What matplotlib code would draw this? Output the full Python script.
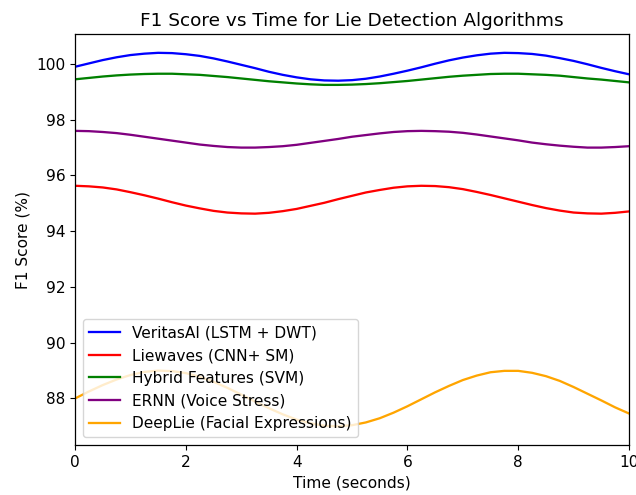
import numpy as np
import matplotlib
matplotlib.use("Agg")
import matplotlib.pyplot as plt

# values every 0.25 s
time_s = np.linspace(0, 10, 41)

veritas = [99.90, 100.02, 100.14, 100.24, 100.32, 100.37, 100.40, 100.39, 100.35, 100.29,
           100.20, 100.09, 99.97, 99.85, 99.72, 99.61, 99.52, 99.45, 99.41, 99.40,
           99.42, 99.47, 99.55, 99.65, 99.76, 99.88, 100.01, 100.13, 100.23, 100.31,
           100.37, 100.40, 100.39, 100.36, 100.30, 100.21, 100.11, 99.99, 99.86, 99.74,
           99.63]
liewaves = [95.63, 95.61, 95.57, 95.50, 95.40, 95.29, 95.17, 95.04, 94.92, 94.82,
            94.73, 94.67, 94.64, 94.63, 94.66, 94.72, 94.80, 94.91, 95.02, 95.15,
            95.27, 95.39, 95.48, 95.56, 95.61, 95.63, 95.62, 95.58, 95.51, 95.41,
            95.30, 95.18, 95.06, 94.94, 94.83, 94.74, 94.67, 94.64, 94.63, 94.66,
            94.71]
hybrid = [99.45, 99.50, 99.55, 99.59, 99.62, 99.64, 99.65, 99.65, 99.63, 99.61,
          99.57, 99.53, 99.48, 99.43, 99.38, 99.34, 99.30, 99.27, 99.25, 99.25,
          99.26, 99.28, 99.31, 99.35, 99.39, 99.44, 99.49, 99.54, 99.58, 99.61,
          99.64, 99.65, 99.65, 99.63, 99.61, 99.58, 99.53, 99.48, 99.44, 99.39,
          99.34]
ernn = [97.60, 97.59, 97.56, 97.52, 97.46, 97.39, 97.32, 97.25, 97.18, 97.11,
        97.06, 97.02, 97.00, 97.00, 97.02, 97.05, 97.10, 97.17, 97.24, 97.31,
        97.39, 97.45, 97.51, 97.56, 97.59, 97.60, 97.59, 97.57, 97.53, 97.47,
        97.40, 97.33, 97.26, 97.18, 97.12, 97.07, 97.03, 97.00, 97.00, 97.02,
        97.05]
deeplie = [88.00, 88.25, 88.48, 88.68, 88.84, 88.95, 89.00, 88.98, 88.91, 88.78,
           88.60, 88.38, 88.14, 87.89, 87.65, 87.43, 87.24, 87.11, 87.02, 87.00,
           87.04, 87.14, 87.29, 87.49, 87.72, 87.97, 88.22, 88.45, 88.66, 88.82,
           88.94, 88.99, 88.99, 88.92, 88.80, 88.63, 88.41, 88.17, 87.93, 87.68,
           87.46]

series = [
    ("VeritasAI (LSTM + DWT)", veritas, "blue"),
    ("Liewaves (CNN+ SM)", liewaves, "red"),
    ("Hybrid Features (SVM)", hybrid, "green"),
    ("ERNN (Voice Stress)", ernn, "purple"),
    ("DeepLie (Facial Expressions)", deeplie, "orange"),
]

plt.rcParams["font.size"] = 11.1
plt.rcParams["lines.linewidth"] = 1.65
plt.rcParams["axes.linewidth"] = 0.9

fig, ax = plt.subplots(figsize=(6.36, 4.95), dpi=100)
for label, vals, color in series:
    ax.plot(time_s, vals, label=label, color=color)

ax.set_xlim(0, 10)
ax.set_title("F1 Score vs Time for Lie Detection Algorithms")
ax.set_xlabel("Time (seconds)")
ax.set_ylabel("F1 Score (%)")
ax.legend(loc="lower left")

fig.subplots_adjust(left=0.118, right=0.989, top=0.931, bottom=0.101)
fig.savefig("out.png")
